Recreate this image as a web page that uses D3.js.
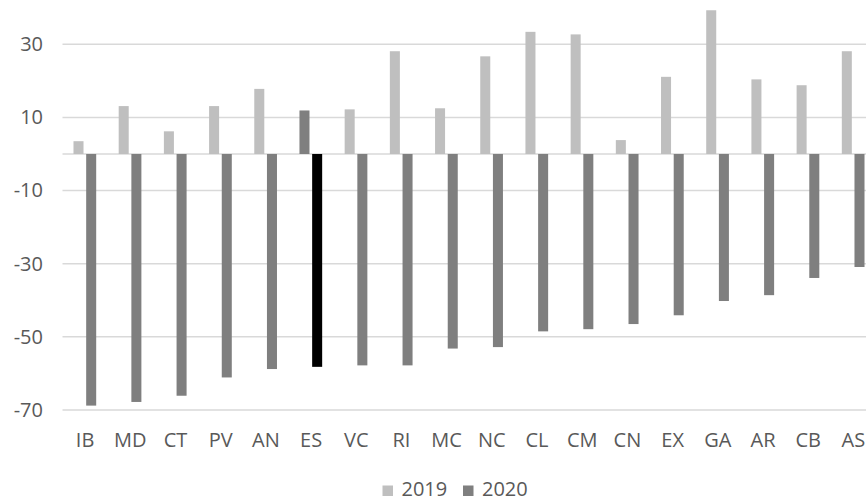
<!DOCTYPE html>
<html>
<head>
<meta charset="utf-8">
<script src="https://cdn.jsdelivr.net/npm/d3@7"></script>
<style>
  html, body { margin: 0; padding: 0; background: #fff; }
  svg { display: block; }
  text { font-family: "Open Sans", "Noto Sans", sans-serif; fill: #595959; }
</style>
</head>
<body>
<svg id="chart" width="866" height="503"></svg>
<script>
const categories = ["IB","MD","CT","PV","AN","ES","VC","RI","MC","NC","CL","CM","CN","EX","GA","AR","CB","AS"];
const series = ["2019", "2020"];
const values2019 = [3.5, 13.1, 6.2, 13.1, 17.8, 11.9, 12.2, 28.1, 12.5, 26.7, 33.4, 32.7, 3.8, 21.1, 39.3, 20.4, 18.8, 28.1];
const values2020 = [-68.8, -67.8, -66.1, -61.1, -58.8, -58.2, -57.8, -57.8, -53.2, -52.8, -48.5, -47.9, -46.5, -44.1, -40.2, -38.6, -33.9, -30.9];
const yTicks = [-70, -50, -30, -10, 10, 30];
const highlight = "ES";

const colors = { "2019": "#bfbfbf", "2020": "#7f7f7f" };
const highlightColors = { "2019": "#7f7f7f", "2020": "#000000" };

const svg = d3.select("#chart");

const x = d3.scaleBand().domain(categories).range([62.5, 876]).padding(0);
const x1 = d3.scaleBand().domain(series).range([-11.6, 11.1]).paddingInner(0.21).paddingOuter(0);
const y = d3.scaleLinear().domain([-70, 40]).range([410, 7.7]);

// gridlines
const grid = svg.append("g");
grid.selectAll("line").data(yTicks.concat([0])).join("line")
  .attr("x1", 62.5).attr("x2", 866)
  .attr("y1", d => y(d)).attr("y2", d => y(d))
  .attr("stroke", "#d9d9d9").attr("stroke-width", 1.5);

// y axis labels
const yAxis = d3.axisLeft(y).tickValues(yTicks).tickSize(0).tickPadding(0).tickFormat(d => String(d));
const gy = svg.append("g").attr("transform", "translate(43,0)").call(yAxis);
gy.select(".domain").remove();
gy.selectAll("text").attr("font-size", 20).attr("fill", "#595959")
  .style("font-family", '"Open Sans", sans-serif');

// bars
const rows = categories.map((c, i) => ({ cat: c, v: { "2019": values2019[i], "2020": values2020[i] } }));
const gBars = svg.append("g");
rows.forEach(r => {
  series.forEach(s => {
    const v = r.v[s];
    const col = r.cat === highlight ? highlightColors[s] : colors[s];
    gBars.append("rect")
      .attr("x", x(r.cat) + x.bandwidth() / 2 + x1(s))
      .attr("width", x1.bandwidth())
      .attr("y", y(Math.max(0, v)))
      .attr("height", Math.abs(y(v) - y(0)))
      .attr("fill", col);
  });
});

// x axis labels
const xAxis = d3.axisBottom(x).tickSize(0).tickPadding(0);
const gx = svg.append("g").attr("transform", "translate(0,447)").call(xAxis);
gx.select(".domain").remove();
gx.selectAll("text").attr("font-size", 20).attr("fill", "#595959").attr("dy", 0)
  .style("font-family", '"Open Sans", sans-serif');

// legend
const legendX = { "2019": 382.5, "2020": 463 };
const lg = svg.append("g");
series.forEach(s => {
  lg.append("rect").attr("x", legendX[s]).attr("y", 485.5).attr("width", 10.5).attr("height", 10.5).attr("fill", colors[s]);
  lg.append("text").attr("x", legendX[s] + 19).attr("y", 496)
    .attr("font-size", 20).text(s);
});
</script>
</body>
</html>
